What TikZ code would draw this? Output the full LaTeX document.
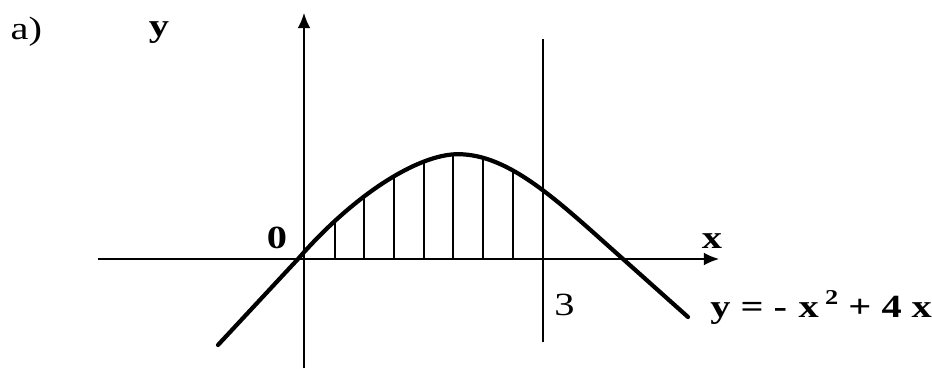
\documentclass[tikz,border=0pt]{standalone}
\usepackage{xcolor}
\usepackage{fontspec}
\usepackage{tikz}
\usetikzlibrary{arrows.meta, positioning, calc}
\newfontfamily\plotfont[FakeStretch=1.25]{Liberation Serif}

\begin{document}
\begin{tikzpicture}[
    font=\plotfont\fontsize{23}{23}\selectfont,
    axisline/.style={line width=1.1pt, -{Latex[length=0.38cm, width=0.32cm]}},
    graphline/.style={line width=3pt, line cap=round, line join=round},
    hatchline/.style={line width=0.9pt},
    boldlabel/.style={inner sep=0pt, font=\plotfont\fontsize{23}{23}\selectfont\bfseries}
]
    \useasboundingbox (-7.6,-2.725) rectangle (15.7,6.475);

    % Axes
    \coordinate (xstart) at (-5.15,0);
    \coordinate (xend) at (10.375,0);
    \coordinate (ystart) at (0,-2.725);
    \coordinate (yend) at (0,6.15);
    \draw[axisline] (xstart) -- (xend);
    \draw[axisline] (ystart) -- (yend);

    % Line x = 3
    \coordinate (limtop) at (5.975,5.5);
    \coordinate (limbot) at (5.975,-2.075);
    \draw[line width=1pt] (limtop) -- (limbot);

    % Curve points
    \coordinate (leftend) at (-2.15,-2.15);
    \coordinate (root0) at (-0.15,0);
    \coordinate (top) at (3.85,2.62);
    \coordinate (root4) at (7.975,0);
    \coordinate (rightend) at (9.6,-1.45);

    % Hatching under the curve
    \begin{scope}
        \clip (root0) .. controls (1.25,1.61) and (2.85,2.62) .. (top)
            .. controls (5.15,2.62) and (6.375,1.424) .. (root4) -- cycle;
        \foreach \hx in {0.775,1.5,2.25,3.0,3.725,4.475,5.225}
            \draw[hatchline] (\hx,0) -- (\hx,3);
    \end{scope}

    % Parabola
    \draw[graphline] (leftend) -- (root0) .. controls (1.25,1.61) and (2.85,2.62) .. (top)
        .. controls (5.15,2.62) and (6.375,1.424) .. (root4) -- (rightend);

    % Labels
    \node[inner sep=0pt, anchor=base] (part) at (-6.94,5.475) {a)};
    \node[boldlabel, anchor=base] (ylabel) at (-3.625,5.55) {y};
    \node[boldlabel, anchor=base] (origin) at (-0.675,0.275) {0};
    \node[boldlabel, anchor=base] (xlabel) at (10.2,0.275) {x};
    \node[inner sep=0pt, anchor=base] (three) at (6.51,-1.4) {3};
    \node[boldlabel, anchor=base west] (eq) at (10.15,-1.45)
        {y = -\hspace{0.35em}x\hspace{0.2em}\raisebox{0.4em}{\fontsize{15}{15}\selectfont 2} + 4\hspace{0.3em}x};
\end{tikzpicture}
\end{document}
